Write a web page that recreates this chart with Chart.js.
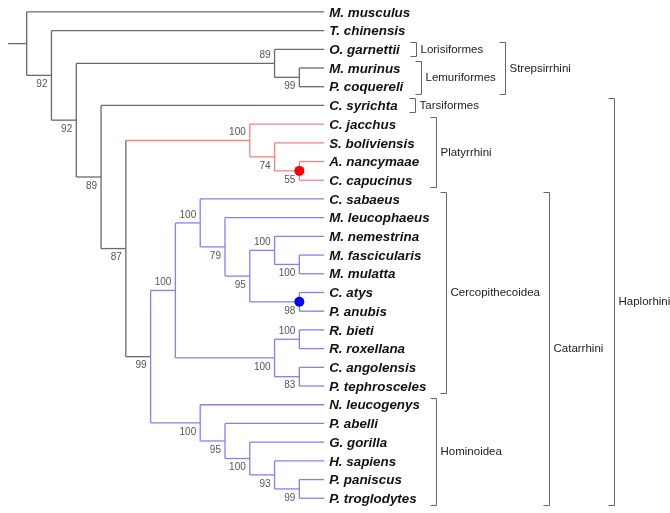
<!DOCTYPE html>
<html lang="en">
<head>
    <meta charset="UTF-8">
    <title>Primate phylogeny</title>
    <script src="https://cdn.jsdelivr.net/npm/chart.js"></script>
    <style>
        html, body { margin: 0; padding: 0; background: #fff; }
        canvas { display: block; }
    </style>
</head>
<body>
    <canvas id="treeChart" width="670" height="513"></canvas>

    <script>
        // tree topology with bootstrap support as internal node labels
        const newick = '(M. musculus,(T. chinensis,((O. garnettii,(M. murinus,P. coquereli)99)89,' +
            '(C. syrichta,((C. jacchus,(S. boliviensis,(A. nancymaae,C. capucinus)55)74)100,' +
            '(((C. sabaeus,(M. leucophaeus,((M. nemestrina,(M. fascicularis,M. mulatta)100)100,(C. atys,P. anubis)98)95)79)100,' +
            '((R. bieti,R. roxellana)100,(C. angolensis,P. tephrosceles)83)100)100,' +
            '(N. leucogenys,(P. abelli,(G. gorilla,(H. sapiens,(P. paniscus,P. troglodytes)99)93)100)95)100)99)87)89)92)92)';

        // coloured clades (first tip, last tip)
        const colourFrom = ['C. jacchus', 'C. sabaeus'];
        const colourTo = ['C. capucinus', 'P. troglodytes'];
        const colourNames = ['#ff8080', '#8080ff'];
        const colourStem = [true, false];

        // marked nodes (first tip, last tip)
        const dotFrom = ['A. nancymaae', 'C. atys'];
        const dotTo = ['C. capucinus', 'P. anubis'];
        const dotColours = ['#ff0000', '#0000ff'];

        // bracket labels on the right
        const cladeNames = ['Lorisiformes', 'Lemuriformes', 'Strepsirrhini', 'Tarsiformes', 'Platyrrhini',
            'Cercopithecoidea', 'Hominoidea', 'Catarrhini', 'Haplorhini'];
        const cladeFrom = ['O. garnettii', 'M. murinus', 'O. garnettii', 'C. syrichta', 'C. jacchus',
            'C. sabaeus', 'N. leucogenys', 'C. sabaeus', 'C. syrichta'];
        const cladeTo = ['O. garnettii', 'P. coquereli', 'P. coquereli', 'C. syrichta', 'C. capucinus',
            'P. tephrosceles', 'P. troglodytes', 'P. troglodytes', 'P. troglodytes'];

        const grey = '#6a6a6a';
        const bracketX = [416, 421, 505, 415, 436, 446, 436, 549, 614];

        // --- parse newick ---
        function parse(str) {
            let pos = 0;
            const tips = [];
            function node() {
                const n = { children: [], label: '' };
                if (str[pos] === '(') {
                    pos++;
                    n.children.push(node());
                    while (str[pos] === ',') { pos++; n.children.push(node()); }
                    pos++; // ')'
                }
                let s = '';
                while (pos < str.length && str[pos] !== ',' && str[pos] !== ')' && str[pos] !== '(') s += str[pos++];
                n.label = s;
                if (!n.children.length) { n.idx = tips.length; tips.push(n); }
                return n;
            }
            const root = node();
            return { root, tips };
        }

        const { root, tips } = parse(newick);
        const tipIndex = {};
        tips.forEach(t => tipIndex[t.label] = t.idx);

        function layout(n) {
            if (!n.children.length) {
                n.h = 0; n.y = n.idx; n.first = n.idx; n.last = n.idx;
                return;
            }
            n.children.forEach(layout);
            n.h = 1 + Math.max(...n.children.map(c => c.h));
            n.first = n.children[0].first;
            n.last = n.children[n.children.length - 1].last;
            n.y = (n.children[0].y + n.children[n.children.length - 1].y) / 2;
        }
        layout(root);
        const topH = root.h;

        const allNodes = [];
        (function walk(n, parent) {
            n.x = topH - n.h;
            n.parent = parent;
            allNodes.push(n);
            n.children.forEach(c => walk(c, n));
        })(root, null);

        function findClade(a, b) {
            const f = tipIndex[a], l = tipIndex[b];
            return allNodes.find(n => n.first === f && n.last === l);
        }

        allNodes.forEach(n => n.colour = grey);
        colourFrom.forEach((a, i) => {
            const top = findClade(a, colourTo[i]);
            allNodes.forEach(n => {
                if (n.first >= top.first && n.last <= top.last) n.colour = colourNames[i];
            });
            top.stemColour = colourStem[i] ? colourNames[i] : grey;
        });

        const datasets = [];
        function seg(x1, y1, x2, y2, col) {
            datasets.push({
                type: 'line',
                data: [{ x: x1, y: y1 }, { x: x2, y: y2 }],
                borderColor: col,
                borderWidth: 1.3,
                pointRadius: 0,
                fill: false,
                tension: 0,
                order: 1
            });
        }

        seg(-0.75, root.y, 0, root.y, grey);
        allNodes.forEach(n => {
            if (n.children.length) {
                seg(n.x, n.children[0].y, n.x, n.children[n.children.length - 1].y, n.colour);
            }
            if (n.parent) {
                const col = n.stemColour || n.colour;
                seg(n.parent.x, n.y, n.x, n.y, col);
            }
        });

        const dotPts = dotFrom.map((a, i) => {
            const n = findClade(a, dotTo[i]);
            return { x: n.x, y: n.y };
        });
        // dots on top of the branches
        datasets.push({
            type: 'scatter',
            data: dotPts,
            pointRadius: 5,
            pointBackgroundColor: dotColours,
            pointBorderWidth: 0,
            order: 0
        });

        const labelsPlugin = {
            id: 'treeLabels',
            afterDatasetsDraw(chart) {
                const ctx = chart.ctx;
                const xs = chart.scales.x, ys = chart.scales.y;
                ctx.save();

                // tip names
                ctx.font = 'bold italic 13.4px "Liberation Sans", Arial, sans-serif';
                ctx.fillStyle = '#111';
                ctx.textBaseline = 'middle';
                ctx.textAlign = 'left';
                tips.forEach(t => {
                    ctx.fillText(t.label, xs.getPixelForValue(topH) + 5, ys.getPixelForValue(t.y) + 1);
                });

                // bootstrap values
                ctx.font = '10px "Liberation Sans", Arial, sans-serif';
                ctx.fillStyle = '#555';
                ctx.textAlign = 'right';
                allNodes.forEach(n => {
                    if (!n.children.length || !n.label || !n.parent) return;
                    const upper = n.parent.children[0] === n;
                    const px = xs.getPixelForValue(n.x) - 4;
                    const py = ys.getPixelForValue(n.y) + (upper ? -8 : 9);
                    ctx.fillText(n.label, px, py);
                });

                // clade brackets
                ctx.strokeStyle = '#666';
                ctx.lineWidth = 1;
                ctx.fillStyle = '#222';
                ctx.font = '11.5px "Liberation Sans", Arial, sans-serif';
                ctx.textAlign = 'left';
                cladeNames.forEach((name, i) => {
                    const bx = bracketX[i] + 0.5;
                    const y1 = Math.round(ys.getPixelForValue(tipIndex[cladeFrom[i]]) - 7) + 0.5;
                    const y2 = Math.round(ys.getPixelForValue(tipIndex[cladeTo[i]]) + 7) + 0.5;
                    ctx.beginPath();
                    ctx.moveTo(bx - 6, y1);
                    ctx.lineTo(bx, y1);
                    ctx.lineTo(bx, y2);
                    ctx.lineTo(bx - 6, y2);
                    ctx.stroke();
                    ctx.fillText(name, bx + 4, (y1 + y2) / 2);
                });
                ctx.restore();
            }
        };

        new Chart(document.getElementById('treeChart'), {
            type: 'scatter',
            data: { datasets: datasets },
            options: {
                responsive: false,
                animation: false,
                layout: { padding: 0 },
                plugins: { legend: { display: false }, tooltip: { enabled: false } },
                scales: {
                    x: { type: 'linear', display: false, min: -0.874, max: 25.75 },
                    y: { type: 'linear', display: false, reverse: true, min: -0.367, max: 26.52 }
                }
            },
            plugins: [labelsPlugin]
        });
    </script>
</body>
</html>
